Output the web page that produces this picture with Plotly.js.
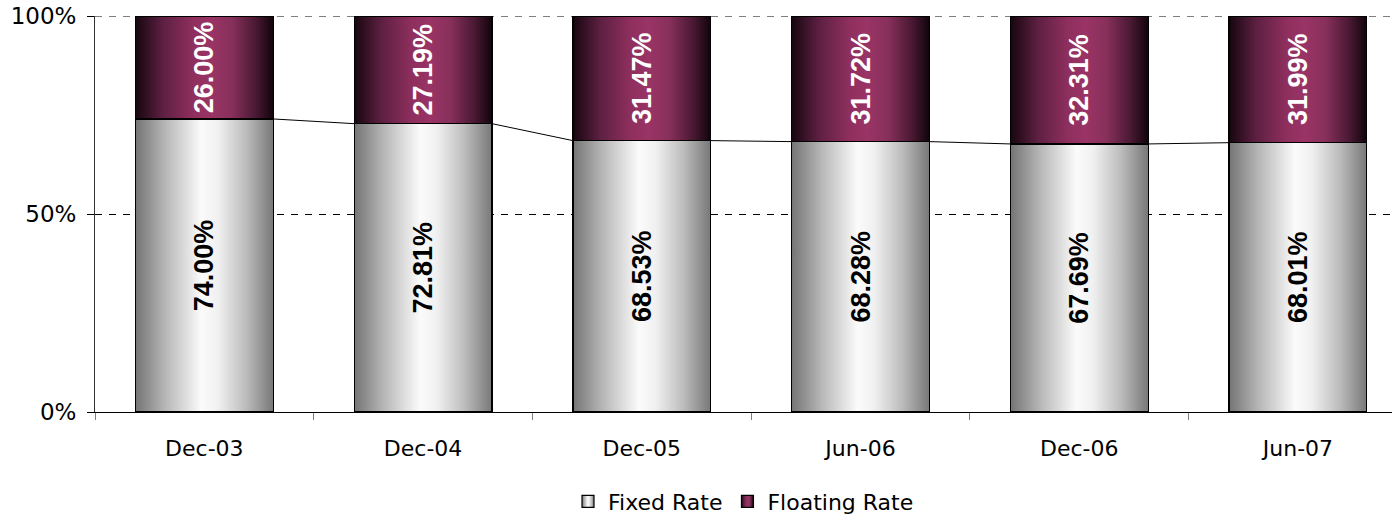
<!DOCTYPE html>
<html>
<head>
<meta charset="utf-8">
<script src="https://cdn.plot.ly/plotly-3.0.1.min.js"></script>
<style>
  html, body { margin: 0; padding: 0; background: #ffffff; }
  #chart { width: 1392px; height: 514px; }
  #paint { position: absolute; width: 0; height: 0; overflow: hidden; }
</style>
</head>
<body>
<!-- shaded fills for the bar segments and legend swatches -->
<svg id="paint" aria-hidden="true">
  <defs>
    <linearGradient id="fixedShade" x1="0" y1="0" x2="1" y2="0">
      <stop offset="0" stop-color="#747474"/>
      <stop offset="0.22" stop-color="#b8b8b8"/>
      <stop offset="0.48" stop-color="#fbfbfb"/>
      <stop offset="0.6" stop-color="#f0f0f0"/>
      <stop offset="0.8" stop-color="#bdbdbd"/>
      <stop offset="1" stop-color="#787878"/>
    </linearGradient>
    <linearGradient id="floatShade" x1="0" y1="0" x2="1" y2="0">
      <stop offset="0" stop-color="#16060f"/>
      <stop offset="0.2" stop-color="#5e2042"/>
      <stop offset="0.42" stop-color="#8f2f5e"/>
      <stop offset="0.55" stop-color="#9a3466"/>
      <stop offset="0.7" stop-color="#87305b"/>
      <stop offset="0.88" stop-color="#471831"/>
      <stop offset="1" stop-color="#10040c"/>
    </linearGradient>
  </defs>
</svg>
<div id="chart"></div>
<script>
// Debt mix by rate type, share of total (%)
const categories = ['Dec-03', 'Dec-04', 'Dec-05', 'Jun-06', 'Dec-06', 'Jun-07'];
const fixedRate = [74.00, 72.81, 68.53, 68.28, 67.69, 68.01];
const floatingRate = [26.00, 27.19, 31.47, 31.72, 32.31, 31.99];
const yTickValues = [0, 50, 100];
const yTickLabels = ['0%', '50%', '100%'];

const barWidth = 0.63;
const xPos = categories.map((_, i) => i);
const fmt = v => v.toFixed(2) + '%';

// series lines joining the tops of the fixed-rate segments
const linkX = [];
const linkY = [];
for (let i = 0; i < fixedRate.length - 1; i++) {
  linkX.push(xPos[i] + barWidth / 2, xPos[i + 1] - barWidth / 2, null);
  linkY.push(fixedRate[i], fixedRate[i + 1], null);
}

const labelFont = { family: 'Liberation Sans, Arial, sans-serif', size: 27, weight: 'bold' };

const traces = [
  {
    type: 'bar', name: 'Fixed Rate', x: xPos, y: fixedRate, width: barWidth,
    marker: { color: '#d8d8d8', line: { color: '#000000', width: 1.2 } },
    text: fixedRate.map(fmt), textposition: 'inside', insidetextanchor: 'middle',
    textangle: -90, constraintext: 'none',
    insidetextfont: Object.assign({ color: '#000000' }, labelFont),
    hoverinfo: 'skip'
  },
  {
    type: 'bar', name: 'Floating Rate', x: xPos, y: floatingRate, width: barWidth,
    marker: { color: '#993366', line: { color: '#000000', width: 1.2 } },
    text: floatingRate.map(fmt), textposition: 'inside', insidetextanchor: 'middle',
    textangle: -90, constraintext: 'none',
    insidetextfont: Object.assign({ color: '#ffffff' }, labelFont),
    hoverinfo: 'skip'
  },
  {
    type: 'scatter', mode: 'lines', x: linkX, y: linkY,
    line: { color: '#000000', width: 1 }, showlegend: false, hoverinfo: 'skip'
  }
];

const layout = {
  width: 1392, height: 514,
  margin: { l: 95, r: 0, t: 16, b: 102 },
  paper_bgcolor: '#ffffff', plot_bgcolor: '#ffffff',
  barmode: 'stack',
  showlegend: true,
  legend: {
    orientation: 'h', x: 0.5, xanchor: 'center',
    yref: 'container', y: 0.024, yanchor: 'middle',
    font: { family: 'DejaVu Sans, sans-serif', size: 22, color: '#000000' },
    traceorder: 'normal', itemwidth: 30
  },
  xaxis: {
    type: 'linear', range: [-0.5, 5.43],
    tickmode: 'array', tickvals: xPos, ticktext: categories,
    ticks: '', ticklabelstandoff: 16,
    showgrid: false, zeroline: false,
    showline: true, linecolor: '#000000', linewidth: 1.2,
    tickfont: { family: 'DejaVu Sans, sans-serif', size: 22, color: '#000000' },
    minor: {
      tickmode: 'array', tickvals: [-0.5, 0.5, 1.5, 2.5, 3.5, 4.5],
      ticks: 'outside', ticklen: 7, tickcolor: '#808080', tickwidth: 1, showgrid: false
    }
  },
  yaxis: {
    range: [0, 100], tickmode: 'array', tickvals: yTickValues, ticktext: yTickLabels,
    ticks: 'outside', ticklen: 7, tickcolor: '#000000', tickwidth: 1,
    ticklabelstandoff: 6,
    showline: true, linecolor: '#333333', linewidth: 1,
    showgrid: true, gridcolor: '#000000', gridwidth: 1, griddash: '7px,7px',
    zeroline: false,
    tickfont: { family: 'DejaVu Sans, sans-serif', size: 23, color: '#000000' }
  },
  // dashed guide at the top of the scale, under the bars
  shapes: [{
    type: 'line', layer: 'below', xref: 'paper', x0: 0, x1: 1,
    yref: 'y', y0: yTickValues[2], y1: yTickValues[2],
    line: { color: '#000000', width: 1, dash: '7px,7px' }
  }]
};

Plotly.newPlot('chart', traces, layout, { staticPlot: true, displayModeBar: false }).then(gd => {
  const shades = ['url(#fixedShade)', 'url(#floatShade)'];
  gd.querySelectorAll('.barlayer .trace').forEach((tr, i) => {
    tr.querySelectorAll('.point path').forEach(p => { p.style.fill = shades[i]; });
  });
  gd.querySelectorAll('.legend .traces').forEach((tr, i) => {
    if (i < shades.length) {
      tr.querySelectorAll('.legendpoints path').forEach(p => {
        p.style.fill = shades[i];
        p.style.stroke = '#000000';
      });
    }
  });
});
</script>
</body>
</html>
